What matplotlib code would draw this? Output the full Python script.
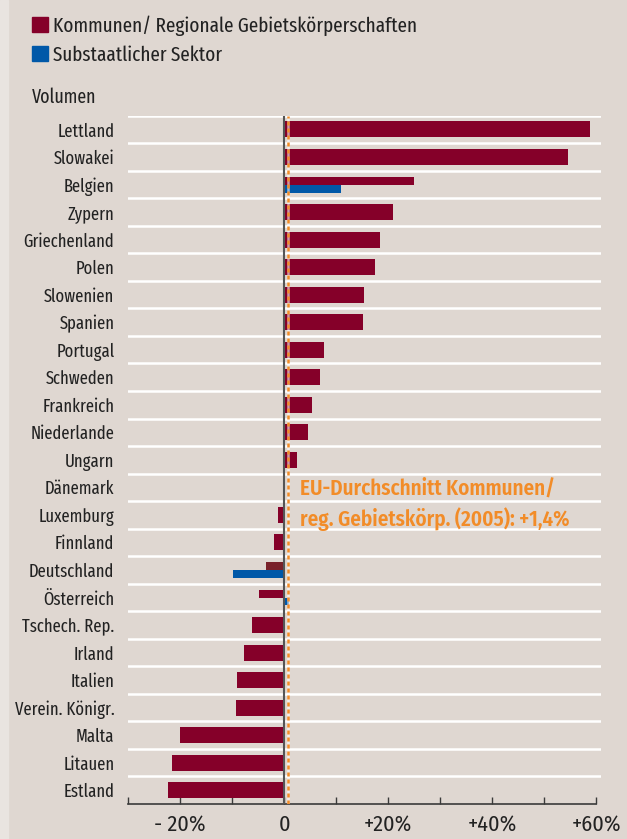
import matplotlib.pyplot as plt
import matplotlib.patches as mpatches
import numpy as np

countries = ['Lettland', 'Slowakei', 'Belgien', 'Zypern', 'Griechenland', 'Polen',
             'Slowenien', 'Spanien', 'Portugal', 'Schweden', 'Frankreich', 'Niederlande',
             'Ungarn', 'Dänemark', 'Luxemburg', 'Finnland', 'Deutschland', 'Österreich',
             'Tschech. Rep.', 'Irland', 'Italien', 'Verein. Königr.', 'Malta', 'Litauen',
             'Estland']
kommunen = [58.8, 54.6, 24.9, 20.9, 18.4, 17.4, 15.3, 15.1, 7.6, 6.9, 5.3, 4.6,
            2.4, -0.1, -1.2, -2.0, -3.5, -4.9, -6.2, -7.8, -9.1, -9.3, -20.0, -21.6,
            -22.4]
# substaatlicher Sektor only shown for some countries
sub_countries = ['Belgien', 'Deutschland', 'Österreich']
substaat = [10.9, -9.9, 0.9]
eu_avg = 0.65

xticks = [-30, -20, -10, 0, 10, 20, 30, 40, 50, 60]
xticklabels = ['', '- 20%', '', '0', '', '+20%', '', '+40%', '', '+60%']

bg = '#dfd7d1'
red = '#850029'
blue = '#0058a8'
orange = '#f28c28'
dark = '#3a3a3a'
txtcol = '#222222'
narrow = ['Fira Sans Extra Condensed', 'DejaVu Sans']

plt.rcParams['font.family'] = ['Fira Sans Condensed', 'DejaVu Sans']

fig = plt.figure(figsize=(6.27, 8.39), dpi=100, facecolor=bg)
fig.patches.append(mpatches.Rectangle((0, 0), 8 / 627, 1, transform=fig.transFigure,
                                      color='#e9e4e0', zorder=0))
ax = fig.add_axes([128.3 / 627, 1 - 804 / 839, (601 - 128.3) / 627, (804 - 115.7) / 839])
ax.set_facecolor(bg)

y = np.arange(len(countries))
h_single = 0.58
h_pair = 0.29

for i, (c, v) in enumerate(zip(countries, kommunen)):
    if c in sub_countries:
        col = '#79212a' if c == 'Deutschland' else red
        ax.barh(i - h_pair / 2, v, height=h_pair, color=col, zorder=3)
        s = substaat[sub_countries.index(c)]
        ax.barh(i + h_pair / 2, s, height=h_pair, color=blue, zorder=3)
    else:
        ax.barh(i, v, height=h_single, color=red, zorder=3)

# row separators
for b in np.arange(-0.5, len(countries) - 0.5, 1):
    ax.axhline(b, color='white', lw=1.8, zorder=1)

ax.axvline(0, color='#555555', lw=1.5, zorder=4)
ax.axvline(eu_avg, color='white', lw=1.8, alpha=0.6, zorder=4)
ax.axvline(eu_avg, color=orange, lw=1.8, linestyle=(0, (1.6, 1.2)), zorder=5)

ax.text(3.0, 13.62, 'EU-Durchschnitt Kommunen/\nreg. Gebietskörp. (2005): +1,4%',
        color=orange, fontsize=15.2, fontweight='semibold', va='center', ha='left',
        linespacing=1.4, zorder=6)

ax.set_xlim(-30, 60.9)
ax.set_ylim(len(countries) - 0.5, -0.5)
ax.set_yticks(y)
ax.set_yticklabels(countries, fontsize=13, color=txtcol, family=narrow)
ax.tick_params(axis='y', length=0, pad=10)
ax.set_xticks(xticks)
ax.set_xticklabels(xticklabels, fontsize=16, color=txtcol)
ax.tick_params(axis='x', direction='in', length=5, width=1, color=dark, pad=7)

for s in ['top', 'right', 'left']:
    ax.spines[s].set_visible(False)
ax.spines['bottom'].set_color(dark)
ax.spines['bottom'].set_linewidth(1.2)
ax.spines['bottom'].set_bounds(-30, 60)

handles = [mpatches.Patch(color=red, label='Kommunen/ Regionale Gebietskörperschaften'),
           mpatches.Patch(color=blue, label='Substaatlicher Sektor')]
fig.legend(handles=handles, loc='upper left', bbox_to_anchor=(32 / 627, 1 - 15 / 839),
           frameon=False, prop={'family': narrow, 'size': 15}, handlelength=0.77,
           handleheight=0.72, handletextpad=0.25, labelspacing=0.48, borderaxespad=0,
           borderpad=0, labelcolor=txtcol)

fig.text(32 / 627, 1 - 97 / 839, 'Volumen', fontsize=14, color=txtcol, va='center',
         family=narrow)

fig.savefig('out.png', dpi=100, facecolor=bg)
